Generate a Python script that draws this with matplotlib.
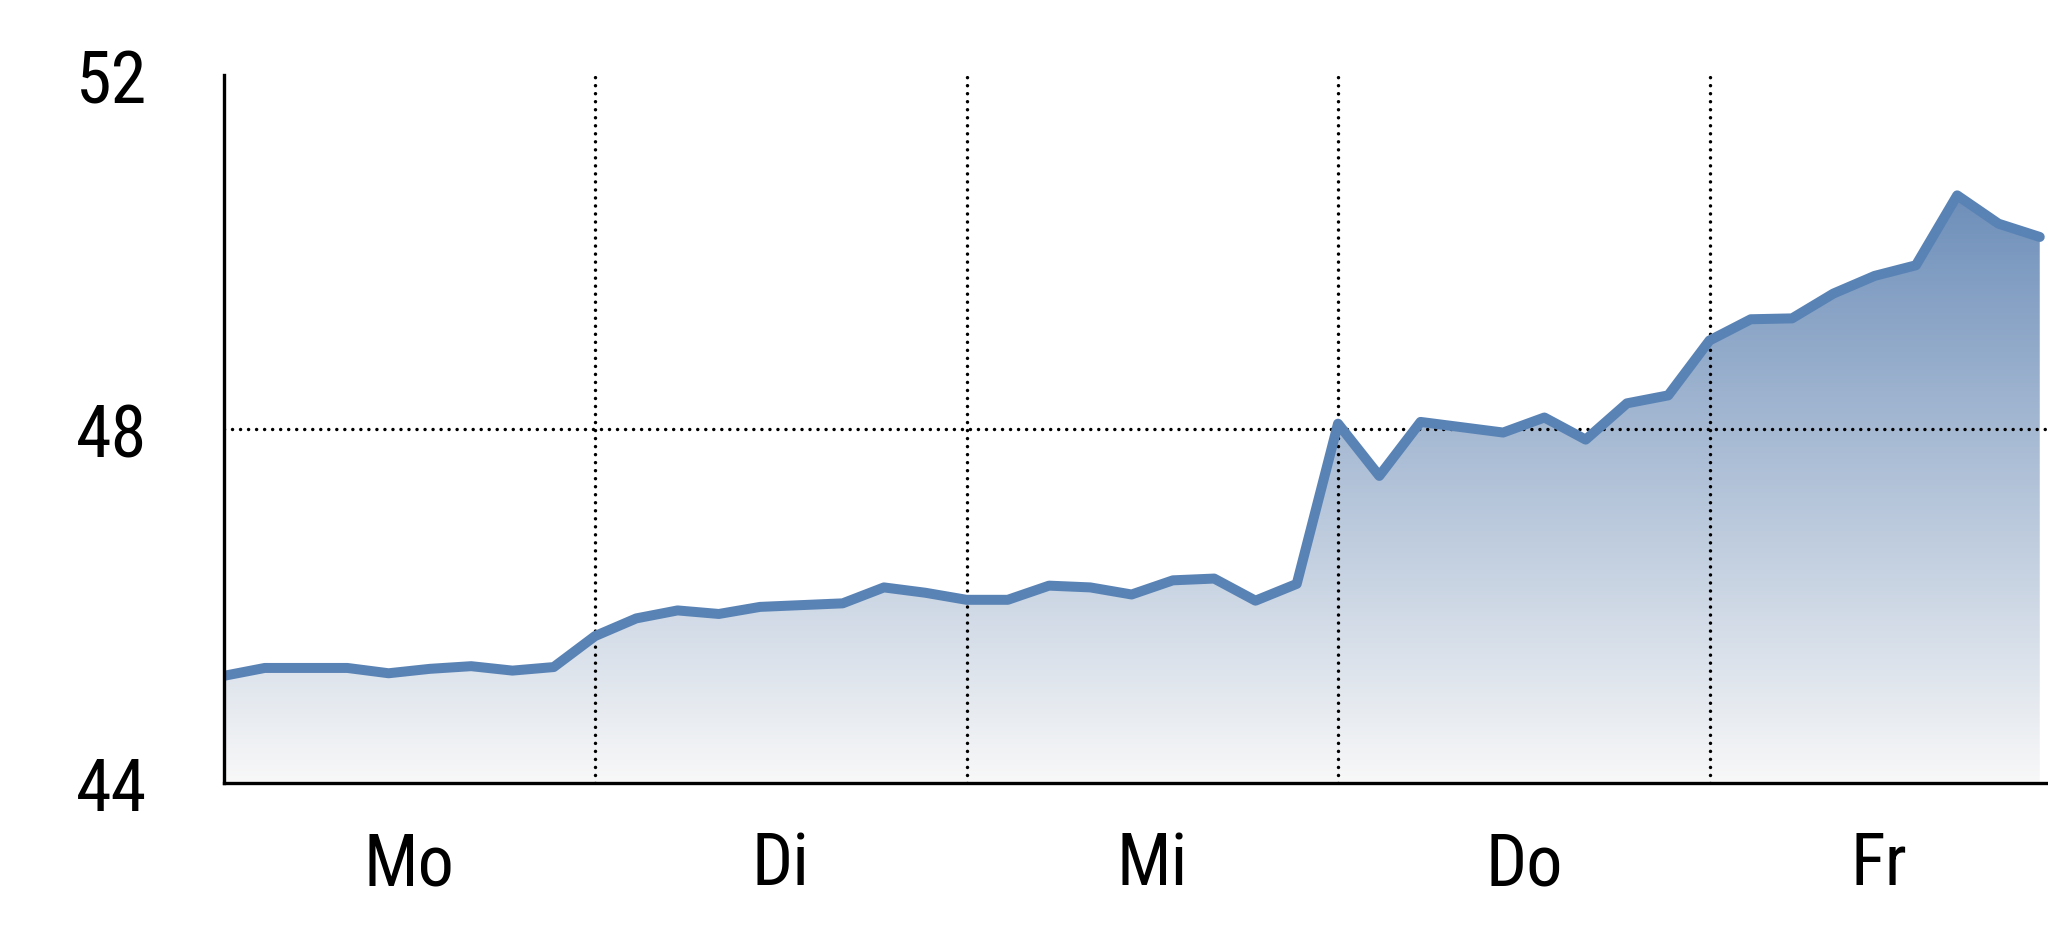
import matplotlib.pyplot as plt
import numpy as np
from matplotlib.colors import LinearSegmentedColormap

# ---------------------------------------------------------------
# data (9 readings per day)
# ---------------------------------------------------------------
days = ['Mo', 'Di', 'Mi', 'Do', 'Fr']
points_per_day = 9
values = [45.21, 45.30, 45.30, 45.30, 45.24, 45.29, 45.32, 45.27, 45.31,
          45.66, 45.86, 45.95, 45.91, 45.99, 46.01, 46.03, 46.21, 46.15,
          46.07, 46.07, 46.23, 46.21, 46.13, 46.29, 46.31, 46.06, 46.25,
          48.06, 47.47, 48.08, 48.02, 47.96, 48.13, 47.88, 48.29, 48.38,
          49.00, 49.24, 49.25, 49.53, 49.73, 49.85, 50.64, 50.32, 50.17]
y_ticks = [44, 48, 52]
y_grid = [48]

line_color = '#5a83b5'
fill_top = '#6e8fba'
fill_bottom = '#f8f8f8'
font = ['Roboto Condensed', 'Liberation Sans', 'DejaVu Sans']

x = np.arange(len(values))
x_max = 44.2
y_min, y_max = y_ticks[0], y_ticks[-1]

fig = plt.figure(figsize=(20.48, 9.37), dpi=100)
ax = fig.add_axes([223.5 / 2048, 1 - 784 / 937, 1 - 223.5 / 2048, (784 - 76) / 937])

# gradient fill under the line
poly = ax.fill_between(x, values, y_min, facecolor='none', edgecolor='none')
cmap = LinearSegmentedColormap.from_list('grad', [fill_bottom, fill_top])
grad = np.linspace(0, 1, 256).reshape(-1, 1)
im = ax.imshow(grad, extent=[x[0], x[-1], y_min, max(values)], origin='lower',
               aspect='auto', cmap=cmap, zorder=1)
im.set_clip_path(poly.get_paths()[0], transform=ax.transData)

ax.plot(x, values, color=line_color, lw=7.2, solid_capstyle='round',
        solid_joinstyle='round', zorder=4)

# dotted grid
dots = (0, (0.01, 2.3))
day_edges = [points_per_day * i for i in range(1, len(days))]
for xe in day_edges:
    ax.axvline(xe, color='black', lw=2.5, ls=dots, dash_capstyle='round', zorder=3)
for yg in y_grid:
    ax.axhline(yg, color='black', lw=2.5, ls=dots, dash_capstyle='round', zorder=3)

ax.set_xlim(0, x_max)
ax.set_ylim(y_min, y_max)

starts = np.arange(len(days)) * points_per_day
ends = np.minimum(starts + points_per_day, x_max)
centers = (starts + ends) / 2
ax.set_xticks(centers)
ax.set_xticklabels(days)
ax.set_yticks(y_ticks)
ax.set_yticklabels([str(v) for v in y_ticks])

for lab in ax.get_xticklabels() + ax.get_yticklabels():
    lab.set_family(font)
    lab.set_fontsize(52)
ax.tick_params(axis='both', length=0)
ax.tick_params(axis='y', pad=55)
ax.tick_params(axis='x', pad=34)

for s in ['top', 'right']:
    ax.spines[s].set_visible(False)
for s in ['left', 'bottom']:
    ax.spines[s].set_linewidth(2.4)
    ax.spines[s].set_zorder(5)

fig.savefig('out.png', dpi=100)
